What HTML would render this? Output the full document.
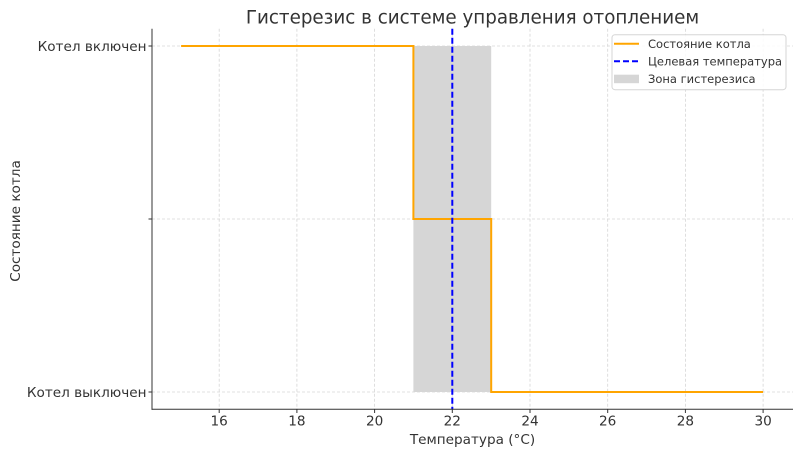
<!DOCTYPE html>
<html><head><meta charset="utf-8"><style>
html,body{margin:0;padding:0;background:#fff;}
svg{display:block;}
text{font-family:"DejaVu Sans","Liberation Sans",sans-serif;fill:#333;}
</style></head><body>
<svg width="800" height="454" viewBox="0 0 800 454" xmlns="http://www.w3.org/2000/svg">
<rect width="800" height="454" fill="#fff"/>
<!-- grid -->
<g stroke="#d6d6d6" stroke-width="0.8" stroke-dasharray="3,2">
<line x1="219.2" y1="28.7" x2="219.2" y2="409.3"/>
<line x1="296.9" y1="28.7" x2="296.9" y2="409.3"/>
<line x1="374.6" y1="28.7" x2="374.6" y2="409.3"/>
<line x1="452.3" y1="28.7" x2="452.3" y2="409.3"/>
<line x1="530.0" y1="28.7" x2="530.0" y2="409.3"/>
<line x1="607.7" y1="28.7" x2="607.7" y2="409.3"/>
<line x1="685.4" y1="28.7" x2="685.4" y2="409.3"/>
<line x1="763.1" y1="28.7" x2="763.1" y2="409.3"/>
<line x1="152" y1="46" x2="793" y2="46"/>
<line x1="152" y1="219" x2="793" y2="219"/>
<line x1="152" y1="392" x2="793" y2="392"/>
</g>
<!-- hysteresis zone -->
<rect x="413.4" y="46" width="77.8" height="346" fill="#d6d6d6"/>
<!-- boiler state -->
<polyline points="181.1,46 413.4,46 413.4,219 491.2,219 491.2,392 763.1,392" fill="none" stroke="#FFA500" stroke-width="2"/>
<!-- target temp -->
<line x1="452.3" y1="28.7" x2="452.3" y2="409.3" stroke="#0000ff" stroke-width="2" stroke-dasharray="6,3"/>
<!-- spines -->
<line x1="152" y1="28.7" x2="152" y2="409.8" stroke="#333" stroke-width="1"/>
<line x1="151.5" y1="409.3" x2="793" y2="409.3" stroke="#333" stroke-width="1"/>
<!-- ticks -->
<g stroke="#333" stroke-width="1">
<line x1="219.2" y1="409.3" x2="219.2" y2="413"/>
<line x1="296.9" y1="409.3" x2="296.9" y2="413"/>
<line x1="374.6" y1="409.3" x2="374.6" y2="413"/>
<line x1="452.3" y1="409.3" x2="452.3" y2="413"/>
<line x1="530.0" y1="409.3" x2="530.0" y2="413"/>
<line x1="607.7" y1="409.3" x2="607.7" y2="413"/>
<line x1="685.4" y1="409.3" x2="685.4" y2="413"/>
<line x1="763.1" y1="409.3" x2="763.1" y2="413"/>
<line x1="148.5" y1="46" x2="152" y2="46"/>
<line x1="148.5" y1="219" x2="152" y2="219"/>
<line x1="148.5" y1="392" x2="152" y2="392"/>
</g>
<!-- tick labels -->
<g font-size="13.6" text-anchor="middle">
<text x="219.2" y="425.5">16</text>
<text x="296.9" y="425.5">18</text>
<text x="374.6" y="425.5">20</text>
<text x="452.3" y="425.5">22</text>
<text x="530.0" y="425.5">24</text>
<text x="607.7" y="425.5">26</text>
<text x="685.4" y="425.5">28</text>
<text x="763.1" y="425.5">30</text>
</g>
<g font-size="13.6" text-anchor="end">
<text x="146.5" y="51">Котел включен</text>
<text x="146.5" y="397">Котел выключен</text>
</g>
<!-- axis labels -->
<text x="472.5" y="444" font-size="13.6" text-anchor="middle">Температура (°C)</text>
<text transform="translate(20,221) rotate(-90)" font-size="13.6" text-anchor="middle">Состояние котла</text>
<!-- title -->
<text x="472.5" y="23.5" font-size="18.3" text-anchor="middle">Гистерезис в системе управления отоплением</text>
<!-- legend -->
<rect x="612" y="34.7" width="174" height="55" rx="3" ry="3" fill="#fff" fill-opacity="0.85" stroke="#d5d5d5" stroke-width="1"/>
<line x1="614" y1="43.7" x2="639" y2="43.7" stroke="#FFA500" stroke-width="2"/>
<line x1="614" y1="61.3" x2="639" y2="61.3" stroke="#0000ff" stroke-width="2" stroke-dasharray="6,3"/>
<rect x="614" y="74.7" width="25" height="8.5" fill="#d6d6d6"/>
<g font-size="11.5">
<text x="648" y="48">Состояние котла</text>
<text x="648" y="65.6">Целевая температура</text>
<text x="648" y="83">Зона гистерезиса</text>
</g>
</svg>
</body></html>
